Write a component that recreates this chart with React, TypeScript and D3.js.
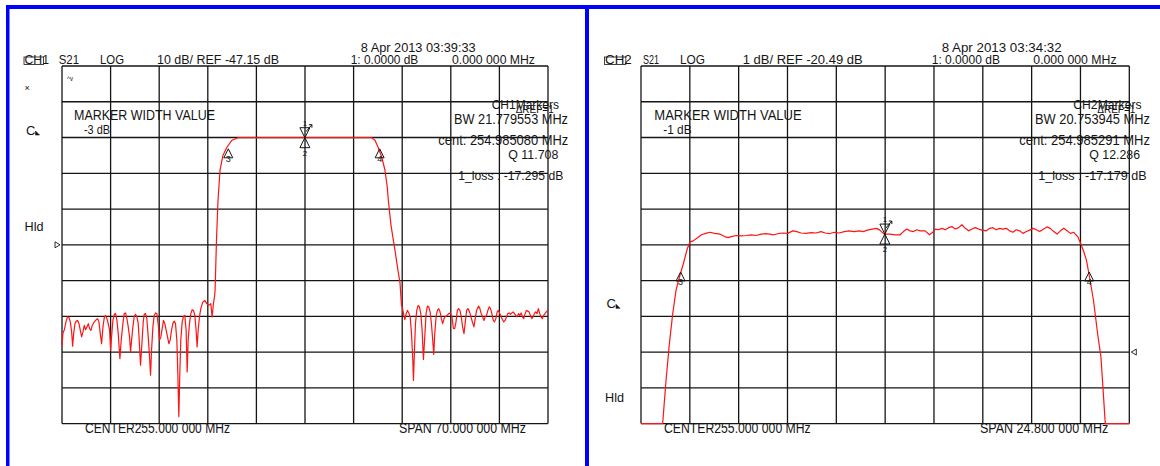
import * as React from 'react';
import * as d3 from 'd3';

type Pt = [number, number];

// ---- CH1: S21 log mag, 10 dB/div, ref -47.15 dB, centre 255 MHz, span 70 MHz
const ch1Sweep = [220, 290];
const ch1Scale = [2.85, -97.15]; // top / bottom of graticule (dB)
const ch1RefLevel = -47.15;

const ch1LowerStop: Pt[] = [
  [220.00,-75.2],[220.14,-71.8],[220.34,-70.9],[220.62,-68.3],[220.81,-67.3],[221.01,-67.5],[221.20,-68.7],[221.39,-71.5],
  [221.53,-75.5],[221.68,-72.0],[221.87,-69.2],[222.06,-68.5],[222.25,-68.3],[222.44,-69.2],[222.64,-71.1],[222.83,-72.9],
  [223.02,-71.5],[223.21,-69.7],[223.40,-70.9],[223.60,-70.1],[223.79,-69.2],[223.98,-70.6],[224.17,-71.1],[224.36,-69.7],
  [224.55,-69.0],[224.75,-68.5],[224.94,-68.1],[225.13,-67.8],[225.32,-68.7],[225.51,-72.0],[225.70,-74.8],[225.90,-70.1],
  [226.09,-67.5],[226.28,-66.9],[226.47,-67.8],[226.66,-69.2],[226.86,-71.1],[227.00,-76.6],[227.14,-72.9],[227.33,-68.3],
  [227.53,-66.6],[227.72,-66.4],[227.91,-68.3],[228.10,-72.0],[228.34,-79.0],[228.53,-73.8],[228.77,-69.2],[228.96,-66.4],
  [229.16,-66.2],[229.35,-67.8],[229.54,-70.1],[229.73,-72.9],[229.88,-77.1],[230.02,-73.8],[230.21,-70.1],[230.40,-67.2],
  [230.59,-66.6],[230.79,-67.3],[230.98,-69.2],[231.12,-73.8],[231.31,-80.8],[231.51,-74.8],[231.70,-68.7],[231.84,-66.6],
  [232.03,-66.4],[232.22,-67.8],[232.42,-72.9],[232.61,-78.5],[232.75,-83.6],[232.90,-76.6],[233.09,-70.1],[233.28,-66.9],
  [233.47,-66.2],[233.66,-66.4],[233.85,-69.2],[234.05,-73.8],[234.24,-72.9],[234.43,-70.6],[234.62,-68.3],[234.81,-69.2],
  [235.01,-71.1],[235.20,-72.9],[235.39,-74.8],[235.58,-73.8],[235.77,-71.1],[235.96,-69.2],[236.16,-68.5],[236.35,-69.2],
  [236.54,-73.8],[236.68,-83.1],[236.83,-95.2],[236.97,-83.1],[237.11,-73.8],[237.31,-68.7],[237.50,-67.2],[237.69,-66.9],
  [237.88,-71.1],[238.03,-82.7],[238.17,-73.8],[238.36,-69.2],[238.55,-66.4],[238.75,-65.3],[238.94,-65.5],[239.13,-66.9],
  [239.32,-71.1],[239.46,-75.7],[239.61,-71.1],[239.80,-67.3],[239.99,-65.0],[240.28,-63.2],[240.57,-62.7],[240.85,-63.6],
  [241.14,-64.1],[241.43,-63.6],[241.62,-67.3],[241.81,-63.6],[241.96,-61.8],[242.05,-59.9],
];

const ch1Passband: Pt[] = [
  [242.25,-45.9],[242.47,-34.7],[242.76,-26.3],[243.19,-22.1],[243.77,-19.8],[244.49,-17.9],[245.35,-17.2],
  [246.40,-17.2],[250.00,-17.2],[255.00,-17.2],[260.00,-17.2],[264.60,-17.2],
  [265.08,-17.9],[265.51,-19.8],[266.05,-22.6],[266.52,-26.3],[266.85,-31.0],[267.00,-34.7],[267.39,-41.7],
  [267.96,-48.7],[268.39,-54.3],[268.68,-57.7],[268.80,-61.3],[268.90,-64.1],
];

const ch1UpperStop: Pt[] = [
  [269.00,-64.5],[269.24,-66.9],[269.38,-68.1],[269.57,-66.4],[269.76,-65.5],[269.95,-66.2],[270.15,-67.3],[270.34,-72.0],
  [270.53,-79.5],[270.62,-85.1],[270.77,-76.7],[270.91,-69.2],[271.10,-65.5],[271.29,-64.1],[271.48,-64.5],[271.68,-66.4],
  [271.87,-71.1],[272.06,-79.2],[272.25,-72.9],[272.44,-66.4],[272.63,-64.3],[272.82,-64.5],[273.02,-65.9],[273.21,-69.2],
  [273.40,-73.9],[273.54,-77.8],[273.69,-72.0],[273.88,-67.3],[274.07,-65.5],[274.26,-65.0],[274.45,-65.9],[274.64,-67.8],
  [274.83,-69.2],[275.03,-67.8],[275.22,-67.2],[275.46,-66.9],[275.70,-66.4],[275.93,-66.2],[276.17,-67.3],[276.37,-70.5],
  [276.56,-70.6],[276.75,-68.7],[276.94,-65.5],[277.13,-65.0],[277.32,-65.5],[277.51,-67.3],[277.70,-70.1],[277.90,-72.0],
  [278.09,-68.7],[278.28,-65.5],[278.47,-65.0],[278.66,-65.7],[278.85,-66.9],[279.04,-68.3],[279.33,-70.1],[279.52,-67.8],
  [279.71,-65.5],[280.00,-64.3],[280.19,-65.0],[280.38,-66.4],[280.58,-67.3],[280.77,-68.3],[280.96,-67.3],[281.15,-66.9],
  [281.34,-65.5],[281.53,-64.5],[281.72,-65.0],[281.92,-66.4],[282.11,-68.3],[282.30,-68.7],[282.49,-67.8],[282.68,-65.9],
  [282.87,-65.5],[283.06,-66.4],[283.26,-67.3],[283.45,-68.1],[283.64,-68.7],[283.83,-68.3],[284.02,-67.3],[284.21,-66.4],
  [284.40,-66.2],[284.60,-66.6],[284.79,-66.2],[284.98,-65.9],[285.17,-66.4],[285.36,-66.9],[285.55,-67.3],[285.74,-66.4],
  [285.93,-66.9],[286.13,-66.2],[286.32,-67.3],[286.51,-67.8],[286.70,-66.4],[286.89,-65.5],[287.08,-65.7],[287.27,-65.9],
  [287.47,-66.9],[287.66,-67.8],[287.85,-67.3],[288.04,-66.4],[288.23,-65.9],[288.42,-66.4],[288.61,-65.0],[288.81,-66.4],
  [289.00,-67.3],[289.19,-67.8],[289.38,-66.9],[289.57,-66.4],[289.76,-65.9],[289.95,-65.5],
];

// marker id, frequency (MHz), level (dB)
const ch1Markers: [string, number, number][] = [
  ['1', 254.985, -17.2], ['2', 254.985, -17.2], ['3', 243.95, -20.3], ['4', 265.75, -20.3],
];

const ch1Texts = {
  ch: 'CH1', param: 'S21', format: 'LOG', scale: '10 dB/ REF -47.15 dB',
  date: '8 Apr 2013  03:39:33', mkrVal: '1: 0.0000 dB', mkrFreq: '0.000 000 MHz',
  widthTitle: 'MARKER WIDTH VALUE', widthVal: '-3 dB',
  list: 'CH1Markers', bw: 'BW  21.779553 MHz', cent: 'cent:  254.985080 MHz',
  q: 'Q  11.708', loss: '1_loss :  -17.295 dB',
  center: 'CENTER255.000 000 MHz', span: 'SPAN  70.000 000 MHz',
};

// ---- CH2: S21 log mag, 1 dB/div, ref -20.49 dB, centre 255 MHz, span 24.8 MHz
const ch2Sweep = [242.6, 267.4];
const ch2Scale = [-12.49, -22.49];
const ch2RefLevel = -20.49;

const ch2LowerStop: Pt[] = [[242.60,-22.6],[243.70,-22.6]];

const ch2Passband: Pt[] = [
  [243.87,-21.29],[244.04,-20.26],[244.21,-19.42],[244.38,-18.76],[244.55,-18.39],[244.75,-18.02],[244.95,-17.60],[245.09,-17.41],
  [245.25,-17.38],[245.45,-17.30],[245.67,-17.21],[245.89,-17.17],[246.09,-17.14],[246.34,-17.17],[246.60,-17.19],[246.85,-17.26],
  [247.02,-17.29],[247.19,-17.26],[247.44,-17.23],[247.69,-17.24],[247.95,-17.23],[248.20,-17.21],[248.45,-17.23],[248.71,-17.19],
  [248.93,-17.18],[249.13,-17.19],[249.33,-17.21],[249.55,-17.18],[249.80,-17.16],[250.05,-17.17],[250.31,-17.10],[250.51,-17.12],
  [250.73,-17.16],[250.98,-17.17],[251.24,-17.15],[251.49,-17.16],[251.74,-17.12],[251.96,-17.16],[252.16,-17.18],[252.42,-17.14],
  [252.67,-17.16],[252.92,-17.12],[253.17,-17.10],[253.43,-17.12],[253.68,-17.10],[253.88,-17.12],[254.10,-17.08],[254.35,-17.05],
  [254.56,-17.03],[254.73,-17.08],[254.95,-17.19],[255.25,-17.19],[255.51,-17.21],[255.76,-17.21],[255.93,-17.12],[256.10,-17.05],
  [256.27,-17.10],[256.44,-17.12],[256.61,-17.07],[256.78,-17.10],[257.03,-17.10],[257.25,-17.21],[257.42,-17.14],[257.54,-17.05],
  [257.71,-17.07],[257.88,-17.03],[258.05,-17.07],[258.22,-17.01],[258.39,-16.98],[258.56,-17.05],[258.73,-17.01],[258.90,-16.93],
  [259.07,-17.03],[259.24,-17.10],[259.41,-17.05],[259.58,-17.01],[259.75,-17.05],[259.92,-17.08],[260.14,-17.10],[260.31,-17.03],
  [260.47,-17.01],[260.64,-17.07],[260.81,-17.03],[260.98,-17.05],[261.15,-17.03],[261.32,-17.10],[261.49,-17.14],[261.66,-17.07],
  [261.83,-17.10],[262.00,-17.17],[262.17,-17.12],[262.34,-17.08],[262.51,-17.03],[262.68,-17.07],[262.85,-17.12],[263.05,-17.05],
  [263.22,-16.99],[263.39,-17.03],[263.56,-17.12],[263.73,-17.19],[263.90,-17.10],[264.07,-17.03],[264.24,-17.10],[264.41,-17.17],
  [264.58,-17.14],[264.66,-17.19],[264.78,-17.26],[264.92,-17.44],[265.08,-17.67],[265.22,-17.91],[265.38,-18.39],[265.58,-19.04],
  [265.79,-19.97],[265.96,-20.63],[266.06,-21.47],[266.18,-22.52],
];

const ch2UpperStop: Pt[] = [[266.20,-22.6],[267.40,-22.6]];

const ch2Markers: [string, number, number][] = [
  ['1', 254.985, -17.19], ['2', 254.985, -17.19], ['3', 244.61, -18.25], ['4', 265.36, -18.25],
];

const ch2Texts = {
  ch: 'CH2', param: 'S21', format: 'LOG', scale: '1 dB/ REF -20.49 dB',
  date: '8 Apr 2013  03:34:32', mkrVal: '1: 0.0000 dB', mkrFreq: '0.000 000 MHz',
  widthTitle: 'MARKER WIDTH VALUE', widthVal: '-1 dB',
  list: 'CH2Markers', bw: 'BW  20.753945 MHz', cent: 'cent:  254.985291 MHz',
  q: 'Q  12.286', loss: '1_loss :  -17.179 dB',
  center: 'CENTER255.000 000 MHz', span: 'SPAN  24.800 000 MHz',
};

// ---------------------------------------------------------------------------

const FONT = '"Liberation Sans", Arial, sans-serif';
const INK = '#151515';
const TRACE = '#ff1414';
const GRID_TOP = 66;
const GRID_BOTTOM = 423.6;

type Texts = typeof ch1Texts;

interface PanelProps {
  left: number;
  right: number;
  sweep: number[];
  scale: number[];
  refLevel: number;
  refSide: 'left' | 'right';
  trace: Pt[];
  markers: [string, number, number][];
  texts: Texts;
  // layout of the annotation text, [x, width] per item
  pos: Record<string, [number, number]>;
  cY: number;
  hldY: number;
  extras?: boolean;
}

const T = (p: {x: number; y: number; w?: number; s: number; children: string; anchor?: string}) => (
  <text
    x={p.x} y={p.y} fontSize={p.s} fill={INK} fontFamily={FONT}
    textAnchor={p.anchor as any}
    textLength={p.w} lengthAdjust={p.w ? 'spacingAndGlyphs' : undefined}
  >{p.children}</text>
);

const Panel = (props: PanelProps) => {
  const {left, right, sweep, scale, refLevel, refSide, trace, markers, texts, pos} = props;

  const x = d3.scaleLinear().domain(sweep).range([left, right]);
  const y = d3.scaleLinear().domain(scale).range([GRID_TOP, GRID_BOTTOM]).clamp(true);
  const line = d3.line<Pt>().x(d => x(d[0])).y(d => y(d[1]));

  const xDivs = d3.range(11).map(i => sweep[0] + (i * (sweep[1] - sweep[0])) / 10);
  const yDivs = d3.range(11).map(i => scale[0] + (i * (scale[1] - scale[0])) / 10);

  const ry = y(refLevel);
  const refArrow = refSide === 'left'
    ? `M${left - 7},${ry - 3}L${left - 2},${ry}L${left - 7},${ry + 3}Z`
    : `M${right + 7},${ry - 3}L${right + 2},${ry}L${right + 7},${ry + 3}Z`;

  const at = (k: string) => pos[k];

  return (
    <g>
      {/* graticule */}
      {xDivs.map((v, i) => (
        <line key={'gx' + i} x1={x(v)} x2={x(v)} y1={GRID_TOP} y2={GRID_BOTTOM} stroke={INK} strokeWidth={1.3}/>
      ))}
      {yDivs.map((v, i) => (
        <line key={'gy' + i} x1={left} x2={right} y1={y(v)} y2={y(v)} stroke={INK} strokeWidth={1.3}/>
      ))}

      {/* the measured trace */}
      <path d={line(trace) || ''} fill="none" stroke={TRACE} strokeWidth={1.2} strokeLinejoin="round"/>

      {/* reference position arrow */}
      <path d={refArrow} fill="none" stroke={INK} strokeWidth={0.9}/>

      {/* markers */}
      {markers.map(([id, f, db]) => {
        const cx = x(f);
        const cy = y(db);
        if (id === '1') {
          return (
            <g key={id} stroke={INK} strokeWidth={1} fill="none">
              <path d={`M${cx - 5},${cy - 10}L${cx + 5},${cy - 10}L${cx},${cy}Z`}/>
              <path d={`M${cx + 1},${cy - 6}L${cx + 7},${cy - 13}M${cx + 4},${cy - 13}L${cx + 7},${cy - 13}L${cx + 7},${cy - 10}`}/>
              <text x={cx} y={cy - 12} fontSize={8} fontFamily={FONT} textAnchor="middle" fill={INK} stroke="none">1</text>
            </g>
          );
        }
        if (id === '2') {
          return (
            <g key={id} stroke={INK} strokeWidth={1} fill="none">
              <path d={`M${cx - 5},${cy + 10}L${cx + 5},${cy + 10}L${cx},${cy}Z`}/>
              <text x={cx} y={cy + 18} fontSize={8} fontFamily={FONT} textAnchor="middle" fill={INK} stroke="none">2</text>
            </g>
          );
        }
        return (
          <g key={id} stroke={INK} strokeWidth={1} fill="none">
            <path d={`M${cx - 4.5},${cy + 9}L${cx + 4.5},${cy + 9}L${cx},${cy}Z`}/>
            <text x={cx} y={cy + 13} fontSize={9} fontFamily={FONT} textAnchor="middle" fill={INK} stroke="none">{id}</text>
          </g>
        );
      })}

      {/* header */}
      <T x={at('ch')[0]} y={64} w={at('ch')[1]} s={12}>{texts.ch}</T>
      <rect x={at('ch')[0] - 0.5} y={57} width={at('ch')[1] * 0.8} height={7.5} fill="none" stroke={INK} strokeWidth={0.8}/>
      <T x={at('param')[0]} y={64} w={at('param')[1]} s={12}>{texts.param}</T>
      <T x={at('format')[0]} y={64} w={at('format')[1]} s={12}>{texts.format}</T>
      <T x={at('scale')[0]} y={64} w={at('scale')[1]} s={12}>{texts.scale}</T>
      <T x={at('date')[0]} y={52} w={at('date')[1]} s={12.5}>{texts.date}</T>
      <T x={at('mkrVal')[0]} y={64.3} w={at('mkrVal')[1]} s={12.5}>{texts.mkrVal}</T>
      <T x={at('mkrFreq')[0]} y={64.3} w={at('mkrFreq')[1]} s={12.5}>{texts.mkrFreq}</T>

      {/* marker width block */}
      <T x={at('widthTitle')[0]} y={120} w={at('widthTitle')[1]} s={14}>{texts.widthTitle}</T>
      <T x={at('widthVal')[0]} y={134} w={at('widthVal')[1]} s={13}>{texts.widthVal}</T>

      {/* marker list */}
      <T x={at('list')[0]} y={109} w={at('list')[1]} s={13}>{texts.list}</T>
      <T x={at('list')[0] + 24} y={113} w={38} s={11.5}>ΔREF=1</T>
      <T x={at('bw')[0]} y={124} w={at('bw')[1]} s={14}>{texts.bw}</T>
      <T x={at('cent')[0]} y={145} w={at('cent')[1]} s={14}>{texts.cent}</T>
      <T x={at('q')[0]} y={159.3} w={at('q')[1]} s={13}>{texts.q}</T>
      <T x={at('loss')[0]} y={180} w={at('loss')[1]} s={13.5}>{texts.loss}</T>

      {/* footer */}
      <T x={at('center')[0]} y={433} w={at('center')[1]} s={14}>{texts.center}</T>
      <T x={at('span')[0]} y={433} w={at('span')[1]} s={14}>{texts.span}</T>

      {/* softkey annotations */}
      <T x={at('ch')[0] + 1.5} y={props.cY} s={13}>C</T>
      <path
        d={`M${at('ch')[0] + 11},${props.cY}L${at('ch')[0] + 15},${props.cY}L${at('ch')[0] + 11},${props.cY - 4}Z`}
        fill={INK} stroke={INK} strokeWidth={0.6}
      />
      <T x={at('ch')[0]} y={props.hldY} w={19} s={13.5}>Hld</T>
      {props.extras && (
        <g>
          <T x={at('ch')[0]} y={91} s={9}>×</T>
          <T x={left + 5} y={81} w={6} s={7}>^v</T>
        </g>
      )}
    </g>
  );
};

const ch1Pos: Record<string, [number, number]> = {
  ch: [24.5, 24.5], param: [58.7, 20.3], format: [100, 24], scale: [157, 122],
  date: [360.7, 115], mkrVal: [350.7, 67.6], mkrFreq: [452, 83],
  widthTitle: [74, 141], widthVal: [84, 26],
  list: [491.7, 67.3], bw: [454, 114], cent: [438.3, 130], q: [508.3, 50], loss: [458.3, 105],
  center: [85, 145], span: [399, 127],
};

const ch2Pos: Record<string, [number, number]> = {
  ch: [605, 26.7], param: [643, 16], format: [680, 25], scale: [742.7, 120],
  date: [941.7, 120], mkrVal: [931.7, 68.3], mkrFreq: [1033.3, 83.3],
  widthTitle: [654.3, 147.4], widthVal: [663.3, 28.3],
  list: [1073.3, 68.3], bw: [1035, 115], cent: [1019.3, 130.7], q: [1089.3, 50.7], loss: [1038.3, 108.3],
  center: [664, 146.7], span: [980, 128.3],
};

const BLUE = '#0000ff';

export default function App() {
  return (
    <svg
      width={1160} height={466} viewBox="0 0 1160 466"
      style={{position: 'absolute', left: 0, top: 0, background: '#fff', display: 'block'}}
    >
      <rect x={0} y={0} width={1160} height={466} fill="#fff"/>
      {/* window frames */}
      <rect x={6} y={5} width={1154} height={4} fill={BLUE}/>
      <rect x={6} y={5} width={3.5} height={461} fill={BLUE}/>
      <rect x={585} y={5} width={4} height={461} fill={BLUE}/>

      <Panel
        left={62} right={548} sweep={ch1Sweep} scale={ch1Scale} refLevel={ch1RefLevel} refSide="left"
        trace={[...ch1LowerStop, ...ch1Passband, ...ch1UpperStop]}
        markers={ch1Markers} texts={ch1Texts} pos={ch1Pos} cY={135} hldY={231} extras
      />
      <Panel
        left={641} right={1129.3} sweep={ch2Sweep} scale={ch2Scale} refLevel={ch2RefLevel} refSide="right"
        trace={[...ch2LowerStop, ...ch2Passband, ...ch2UpperStop]}
        markers={ch2Markers} texts={ch2Texts} pos={ch2Pos} cY={308.3} hldY={401.7}
      />
    </svg>
  );
}
